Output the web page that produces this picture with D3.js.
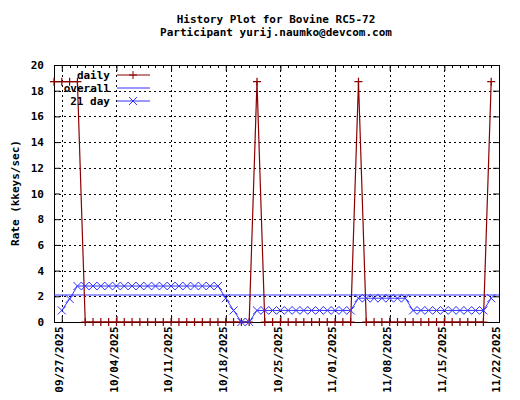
<!DOCTYPE html>
<html><head><meta charset="utf-8">
<script src="https://cdn.jsdelivr.net/npm/d3@7"></script>
<style>body{margin:0;background:#fff}text{font-family:"DejaVu Sans Mono",monospace;font-size:11px;font-weight:bold}</style>
</head><body><svg id="chart" width="520" height="400"></svg>
<script>
const startDay = "2025-09-26";
// daily rate per day from startDay
const dailyValues = [18.7,18.7,18.7,18.7,0,0,0,0,0,0,0,0,0,0,0,0,0,0,0,0,0,0,0,0,0,0,18.7,0,0,0,0,0,0,0,0,0,0,0,0,18.7,0,0,0,0,0,0,0,0,0,0,0,0,0,0,0,0,18.7];
// 21 day average, starts one day after startDay
const rolling21 = [0.9,1.8,2.8,2.8,2.8,2.8,2.8,2.8,2.8,2.8,2.8,2.8,2.8,2.8,2.8,2.8,2.8,2.8,2.8,2.8,2.8,1.85,0.9,0,0,0.9,0.9,0.9,0.9,0.9,0.9,0.9,0.9,0.9,0.9,0.9,0.9,0.9,1.85,1.85,1.85,1.85,1.85,1.85,1.85,0.9,0.9,0.9,0.9,0.9,0.9,0.9,0.9,0.9,0.9,1.85];
const overall = 2.1;
const tickDates = ["2025-09-27","2025-10-04","2025-10-11","2025-10-18","2025-10-25","2025-11-01","2025-11-08","2025-11-15","2025-11-22"];
const yTicks = [0,2,4,6,8,10,12,14,16,18,20];

const svg = d3.select("#chart");
const L = 54, R = 499, T = 65, B = 322;
const day0 = new Date(startDay + "T00:00:00");
const dayAt = i => d3.timeDay.offset(day0, i);
const x = d3.scaleTime().domain([day0, new Date("2025-11-22T00:00:00")]).range([L, R]);
const y = d3.scaleLinear().domain([0, 20]).range([B, T]);

// grid
const grid = svg.append("g").attr("stroke", "#000").attr("stroke-dasharray", "2,3").attr("stroke-width", 1);
tickDates.forEach(d => { const xx = Math.round(x(new Date(d + "T00:00:00"))) + 0.5;
  grid.append("line").attr("x1", xx).attr("x2", xx).attr("y1", T).attr("y2", B); });
yTicks.slice(1, -1).forEach(v => grid.append("line").attr("x1", L).attr("x2", R).attr("y1", Math.round(y(v)) + 0.5).attr("y2", Math.round(y(v)) + 0.5));

// axes
svg.append("g").attr("transform", `translate(${L},0)`)
  .call(d3.axisLeft(y).tickValues(yTicks).tickSize(-6).tickPadding(10))
  .call(g => g.select(".domain").remove()).selectAll("text").attr("fill", "#000");
svg.append("g").attr("transform", `translate(${R},0)`)
  .call(d3.axisRight(y).tickValues(yTicks).tickSize(-6).tickFormat(""))
  .call(g => g.select(".domain").remove());
const xa = svg.append("g").attr("transform", `translate(0,${B})`)
  .call(d3.axisBottom(x).tickValues(tickDates.map(d => new Date(d + "T00:00:00"))).tickSize(-6).tickFormat(d3.timeFormat("%m/%d/%Y")));
xa.select(".domain").remove();
xa.selectAll("text").attr("transform", "rotate(-90)").attr("text-anchor", "end").attr("dx", "-0.4em").attr("dy", "-0.2em").attr("fill", "#000");
svg.append("g").attr("transform", `translate(0,${T})`)
  .call(d3.axisTop(x).tickValues(tickDates.map(d => new Date(d + "T00:00:00"))).tickSize(-6).tickFormat(""))
  .call(g => g.select(".domain").remove());
// minor day ticks
d3.range(dailyValues.length + 1).forEach(i => {
  const xx = Math.round(x(dayAt(i))) + 0.5;
  svg.append("line").attr("x1", xx).attr("x2", xx).attr("y1", T).attr("y2", T + 3).attr("stroke", "#000");
});
svg.append("rect").attr("x", L + 0.5).attr("y", T + 0.5).attr("width", R - L).attr("height", B - T).attr("fill", "none").attr("stroke", "#000");

const clip = svg.append("g");
// overall
clip.append("line").attr("x1", L).attr("x2", R).attr("y1", y(overall)).attr("y2", y(overall)).attr("stroke", "#3232ff");
// daily
const dark = "#8b0000";
clip.append("path").datum(dailyValues).attr("fill", "none").attr("stroke", dark).attr("stroke-width", 1.2)
  .attr("d", d3.line().x((d, i) => x(dayAt(i))).y(d => y(d)));
dailyValues.forEach((d, i) => {
  const cx = x(dayAt(i)), cy = y(d);
  clip.append("path").attr("d", `M${cx - 4},${cy}H${cx + 4}M${cx},${cy - 4}V${cy + 4}`).attr("stroke", dark).attr("stroke-width", 1.2);
});
// 21 day
const blue = "#3232ff";
clip.append("path").datum(rolling21).attr("fill", "none").attr("stroke", blue)
  .attr("d", d3.line().x((d, i) => x(dayAt(i + 1))).y(d => y(d)));
rolling21.forEach((d, i) => {
  const cx = x(dayAt(i + 1)), cy = y(d);
  clip.append("path").attr("d", `M${cx - 4},${cy - 4}L${cx + 4},${cy + 4}M${cx - 4},${cy + 4}L${cx + 4},${cy - 4}`).attr("stroke", blue);
});

// legend
const leg = [["daily", dark, "+"], ["overall", blue, ""], ["21 day", blue, "x"]];
leg.forEach(([t, c, m], i) => {
  const ly = 75 + i * 13;
  svg.append("text").attr("x", 110).attr("y", ly + 4).attr("text-anchor", "end").text(t);
  svg.append("line").attr("x1", 117).attr("x2", 150).attr("y1", ly).attr("y2", ly).attr("stroke", c);
  if (m === "+") svg.append("path").attr("d", `M129,${ly}h8M133,${ly - 4}v8`).attr("stroke", c);
  if (m === "x") svg.append("path").attr("d", `M129,${ly - 4}l8,8M129,${ly + 4}l8,-8`).attr("stroke", c);
});

svg.append("text").attr("x", 276).attr("y", 23).attr("text-anchor", "middle").text("History Plot for Bovine RC5-72");
svg.append("text").attr("x", 276).attr("y", 36).attr("text-anchor", "middle").text("Participant yurij.naumko@devcom.com");
svg.append("text").attr("transform", "translate(19,193) rotate(-90)").attr("text-anchor", "middle").text("Rate (kkeys/sec)");
</script></body></html>
